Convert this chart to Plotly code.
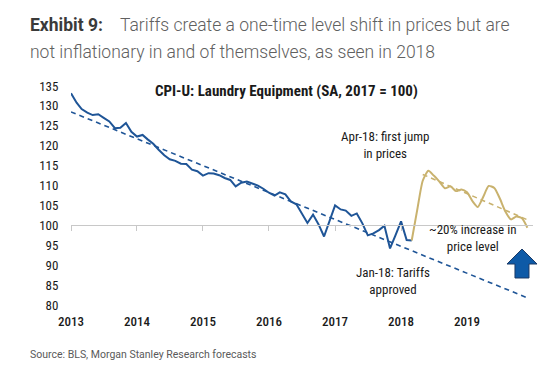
import plotly.graph_objects as go
import pandas as pd

# ---- data ----
months = pd.date_range("2013-01-01", "2019-12-01", freq="MS")

cpi_actual = [
    133.2, 130.8, 129.2, 128.3, 127.7, 127.9, 127.0, 126.1, 124.4, 124.5, 125.7, 123.5,   # 2013
    122.3, 122.7, 121.6, 120.5, 119.0, 117.6, 116.6, 116.2, 115.5, 115.4, 114.0, 113.6,   # 2014
    112.5, 113.1, 113.0, 112.6, 111.9, 111.4, 109.8, 110.7, 111.0, 110.6, 110.0, 109.2,   # 2015
    108.2, 107.5, 108.3, 107.8, 106.0, 105.3, 103.0, 100.6, 102.7, 100.3, 97.2, 101.2,    # 2016
    105.0, 104.0, 103.7, 102.4, 103.0, 100.5, 97.5, 98.0, 98.8, 99.9, 94.2, 97.5,         # 2017
    101.0, 96.3, 96.2,                                                                    # 2018 Jan-Mar
]
cpi_post = [
    96.2, 104.0, 111.2, 113.7, 112.5, 111.0, 109.3, 109.8, 108.6, 109.0,                  # 2018 Mar-Dec
    108.3, 106.0, 104.6, 107.2, 109.9, 109.4, 106.8, 103.5, 101.5, 102.2, 101.8, 99.4,    # 2019
]
pre_trend_dates = ["2013-01-01", "2019-12-01"]
pre_trend_vals = [128.5, 81.8]
post_trend_dates = ["2018-05-01", "2019-12-01"]
post_trend_vals = [112.8, 101.4]

year_ticks = ["2013-01-01", "2014-01-01", "2015-01-01", "2016-01-01",
              "2017-01-01", "2018-01-01", "2019-01-01"]
year_labels = ["2013", "2014", "2015", "2016", "2017", "2018", "2019"]
y_ticks = list(range(80, 136, 5))

# ---- styling ----
BLUE = "#1F5597"
GOLD = "#C9B26E"
COND = "Roboto Condensed, Liberation Sans Narrow, DejaVu Sans Condensed, Roboto, sans-serif"
HEAD = "Roboto, Noto Sans, sans-serif"

W, H = 543, 373
L, R, T, B = 71, 10, 86, 68
PW, PH = W - L - R, H - T - B


def px(x):
    return (x - L) / PW


def py(y):
    return (H - B - y) / PH


post_dates = months[len(cpi_actual) - 1:]
pre_dates = months[:len(cpi_actual)]

fig = go.Figure()
fig.add_trace(go.Scatter(x=pre_trend_dates, y=pre_trend_vals, mode="lines",
                         line=dict(color=BLUE, width=1.6, dash="5px,4px"),
                         xaxis="x2", hoverinfo="skip", showlegend=False))
fig.add_trace(go.Scatter(x=post_trend_dates, y=post_trend_vals, mode="lines",
                         line=dict(color=GOLD, width=1.6, dash="5px,4px"),
                         hoverinfo="skip", showlegend=False))
fig.add_trace(go.Scatter(x=pre_dates, y=cpi_actual, mode="lines",
                         line=dict(color=BLUE, width=2), showlegend=False))
fig.add_trace(go.Scatter(x=post_dates, y=cpi_post, mode="lines",
                         line=dict(color=GOLD, width=2, shape="spline", smoothing=0.6),
                         showlegend=False))

xrange = ["2013-01-01", "2020-01-01"]
fig.update_layout(
    width=W, height=H,
    margin=dict(l=L, r=R, t=T, b=B),
    paper_bgcolor="white", plot_bgcolor="white",
    font=dict(family=COND, color="#1a1a1a"),
    showlegend=False,
    xaxis=dict(type="date", range=xrange, tickvals=year_ticks, ticktext=year_labels,
               showgrid=False, zeroline=False, showline=False,
               ticks="outside", ticklen=4, tickcolor="rgba(0,0,0,0)",
               tickfont=dict(family=COND, size=13, color="#1a1a1a", weight=500)),
    xaxis2=dict(type="date", range=xrange, overlaying="x", anchor="free",
                position=(100 - 80) / (135 - 80), matches="x",
                tickvals=year_ticks, showticklabels=False,
                showgrid=False, zeroline=False, showline=True,
                linecolor="#c8c8c8", linewidth=1,
                ticks="outside", ticklen=5, tickcolor="#c8c8c8", tickwidth=1),
    yaxis=dict(range=[80, 135], tickvals=y_ticks, showgrid=False, zeroline=False,
               showline=False, ticks="outside", ticklen=9, tickcolor="rgba(0,0,0,0)",
               tickfont=dict(family=COND, size=13, color="#1a1a1a")),
)

ann = []
# header
ann.append(dict(x=px(28), y=py(25), text="<b>Exhibit 9:</b>", showarrow=False,
                xanchor="left", yanchor="middle",
                font=dict(family=HEAD, size=17.5, color="#3a3a3a")))
ann.append(dict(x=px(118), y=py(25), text="Tariffs create a one-time level shift in prices but are",
                showarrow=False, xanchor="left", yanchor="middle",
                font=dict(family=HEAD, size=17.5, color="#606060", weight=300)))
ann.append(dict(x=px(28), y=py(52), text="not inflationary in and of themselves, as seen in 2018",
                showarrow=False, xanchor="left", yanchor="middle",
                font=dict(family=HEAD, size=17.5, color="#606060", weight=300)))
# chart title
ann.append(dict(x=px(286), y=py(91), text="<b>CPI-U: Laundry Equipment (SA, 2017 = 100)</b>",
                showarrow=False, xanchor="center", yanchor="middle",
                font=dict(family=COND, size=15, color="#1a1a1a")))
# callouts
ann.append(dict(x=px(385), y=py(145), text="Apr-18: first jump<br>in prices",
                showarrow=False, xanchor="center", yanchor="middle", align="center",
                font=dict(family=COND, size=13, color="#1a1a1a")))
ann.append(dict(x=px(472), y=py(238), text="~20% increase in<br>price level",
                showarrow=False, xanchor="center", yanchor="middle", align="center",
                font=dict(family=COND, size=13, color="#1a1a1a")))
ann.append(dict(x=px(393), y=py(281), text="Jan-18: Tariffs<br>approved",
                showarrow=False, xanchor="center", yanchor="middle", align="center",
                font=dict(family=COND, size=13, color="#1a1a1a")))
# source
ann.append(dict(x=px(28), y=py(354), text="Source: BLS, Morgan Stanley Research forecasts",
                showarrow=False, xanchor="left", yanchor="middle",
                font=dict(family=HEAD, size=10.5, color="#5a5a5a")))
for a in ann:
    a["xref"] = "paper"
    a["yref"] = "paper"
fig.update_layout(annotations=ann)

# block up-arrow
pts = [(522, 249), (537, 264), (529, 264), (529, 278), (515, 278), (515, 264), (507, 264)]
path = "M " + " L ".join(f"{px(x):.4f},{py(y):.4f}" for x, y in pts) + " Z"
fig.add_shape(type="path", path=path, xref="paper", yref="paper",
              fillcolor="#0E5AA7", line=dict(color="#1b3a66", width=1))

fig.write_html("out.html", config={"displayModeBar": False},
               post_script="document.body.style.margin='0';document.body.style.overflow='hidden';")
